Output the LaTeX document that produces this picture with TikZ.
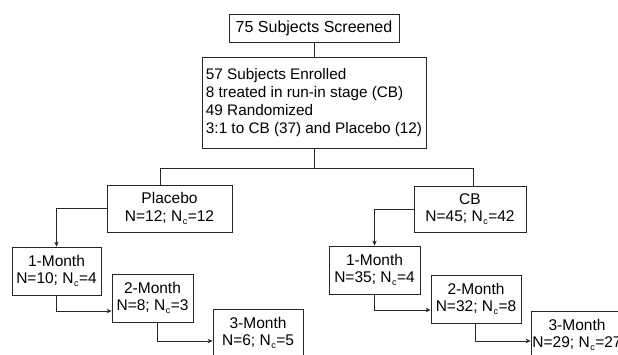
\documentclass[tikz,border=0pt]{standalone}
\usepackage{fontspec}
\setmainfont{Liberation Sans}
\usetikzlibrary{arrows.meta}
\newcommand{\Nsub}{N\kern0.5pt\raisebox{-0.35ex}{\fontsize{9}{9}\selectfont c}\kern0.5pt}
\begin{document}
\begin{tikzpicture}[x=1pt,y=-1pt,
  box/.style={draw=black!85, line width=0.8pt, align=center, inner sep=0pt,
    font=\fontsize{15.5}{17.5}\selectfont},
  link/.style={draw=black!85, line width=0.8pt},
  arr/.style={link, -{Stealth[length=5pt,width=4.5pt]}}]
\useasboundingbox (0,0) rectangle (618,355);
\clip (0,0) rectangle (618,355);
\node[box, font=\fontsize{16}{17.5}\selectfont, minimum width=170pt, minimum height=28pt] (top) at (314,28) {75 Subjects Screened};
\node[box, font=\fontsize{15.3}{17.7}\selectfont, align=left, minimum width=224pt, minimum height=91pt] (enroll) at (314,102.5)
  {57 Subjects Enrolled\\8 treated in run-in stage (CB)\\49 Randomized\\3:1 to CB (37) and Placebo (12)};
\node[box, minimum width=125pt, minimum height=47pt] (placebo) at (169.5,208.5) {Placebo\\N=12; \Nsub=12};
\node[box, minimum width=112pt, minimum height=46pt] (cb) at (470,209) {CB\\N=45; \Nsub=42};
\node[box, minimum width=89pt, minimum height=48pt] (L1) at (56.5,271) {1-Month\\N=10; \Nsub=4};
\node[box, minimum width=81pt, minimum height=48pt] (L2) at (152.5,298) {2-Month\\N=8; \Nsub=3};
\node[box, minimum width=90pt, minimum height=48pt] (L3) at (258,333) {3-Month\\N=6; \Nsub=5};
\node[box, minimum width=91pt, minimum height=48pt] (R1) at (374.5,270) {1-Month\\N=35; \Nsub=4};
\node[box, minimum width=90pt, minimum height=48pt] (R2) at (476,299) {2-Month\\N=32; \Nsub=8};
\node[box, minimum width=92pt, minimum height=48pt] (R3) at (577,335) {3-Month\\N=29; \Nsub=27};
\coordinate (j) at (314,169);
\draw[link] (top) -- (enroll);
\draw[link] (enroll) -- (j);
\draw[link] ([xshift=-9.5pt]placebo.north) -- ++(0,-16) -| ([xshift=3pt]cb.north);
\draw[arr] (placebo.west) -| (L1.north);
\draw[arr] (L1.south) |- ([yshift=-13pt]L2.west);
\draw[arr] ([xshift=4.5pt]L2.south) |- ([yshift=-8pt]L3.west);
\draw[arr] (cb.west) -| (R1.north);
\draw[arr] (R1.south) |- ([yshift=-11pt]R2.west);
\draw[arr] ([xshift=-1pt]R2.south) |- ([yshift=-6pt]R3.west);
\end{tikzpicture}
\end{document}
